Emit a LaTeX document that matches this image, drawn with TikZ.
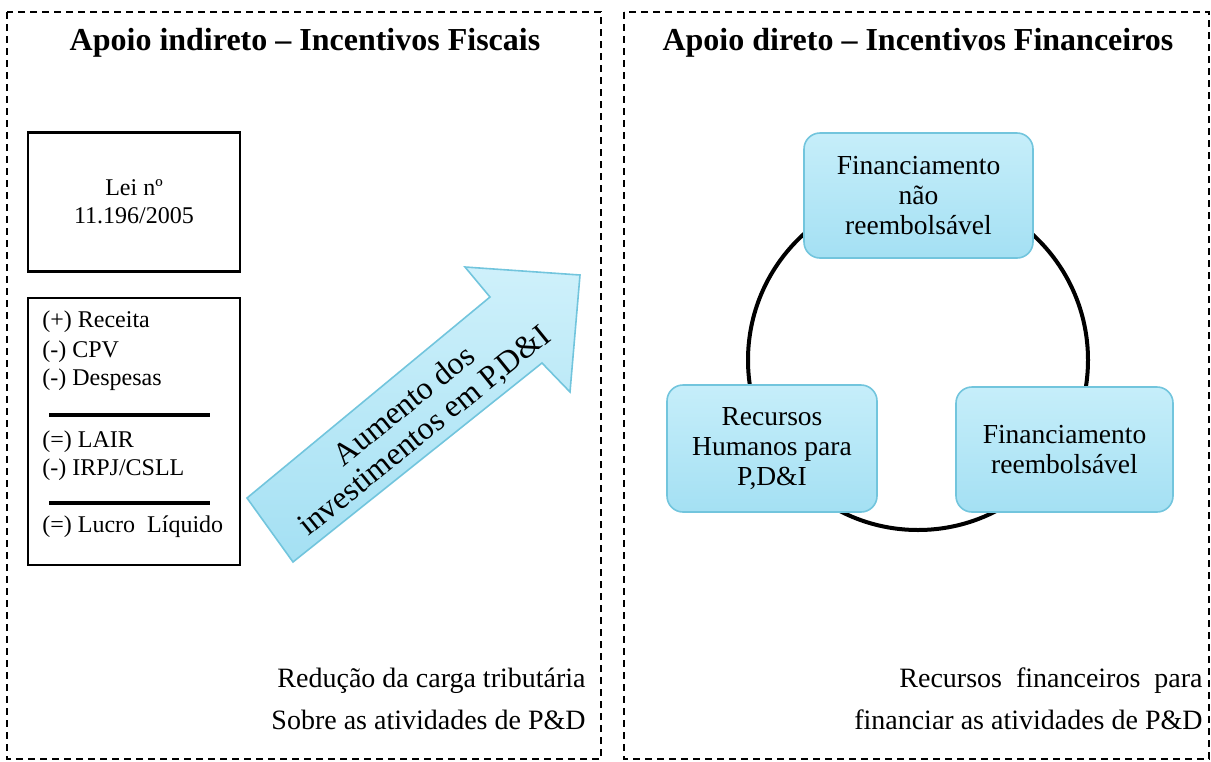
\documentclass[tikz,border=0pt]{standalone}
\usepackage{fontspec}
\setmainfont{Liberation Serif}
\usepackage{xcolor}
\usetikzlibrary{positioning}
\definecolor{boxtop}{HTML}{C6EEFA}
\definecolor{boxbot}{HTML}{A4E0F3}
\definecolor{boxline}{HTML}{72C5DD}
\tikzset{
    panel/.style={draw, line width=0.6pt, dash pattern=on 3.5pt off 2.5pt},
    titletxt/.style={anchor=base, font=\fontsize{16}{18}\selectfont\bfseries},
    plainbox/.style={draw, line width=1.4pt, minimum width=106pt},
    dreline/.style={anchor=west, inner sep=0pt, font=\fontsize{12}{14}\selectfont},
    rulebar/.style={line width=1.6pt},
    fundbox/.style={draw=boxline, line width=0.8pt, rounded corners=8pt,
        top color=boxtop, bottom color=boxbot, align=center,
        font=\fontsize{13.75}{15}\selectfont},
    foottxt/.style={anchor=base east, align=right, inner sep=0pt, font=\fontsize{14}{21}\selectfont}
}
\begin{document}
\begin{tikzpicture}[x=0.5pt, y=-0.5pt]
                        \useasboundingbox (0, 0) rectangle (1211, 761);
                        % the two halves
                        \draw[panel] (7, 12) rectangle (601, 759);
                        \draw[panel] (624, 12) rectangle (1209, 759);
                        \node[titletxt] (tind) at (305, 50) {Apoio indireto -- Incentivos Fiscais};
                        \node[titletxt] (tdir) at (918, 50) {Apoio direto -- Incentivos Financeiros};
                        % left half
                        \node[plainbox, minimum height=69.5pt, align=center,
                              font=\fontsize{12}{14}\selectfont] (lei) at (134, 202) {Lei nº\\11.196/2005};
                        \node[plainbox, minimum height=133.5pt] (dre) at (134, 431.5) {};
                        \foreach \y/\t in {322/{(+) Receita}, 352/{(-) CPV}, 380/{(-) Despesas},
                                           442/{(=) LAIR}, 470/{(-) IRPJ/CSLL}, 527/{(=) Lucro\ \ Líquido}} {
                            \node[dreline] (l\y) at (42, \y) {\t};
                        }
                        \draw[rulebar] (49, 415) -- (210, 415);
                        \draw[rulebar] (49, 503) -- (210, 503);
                        \draw[draw=boxline, line width=0.8pt, top color=boxtop!85!white, bottom color=boxbot]
                        (247, 498) -- (490, 297) -- (465, 267) -- (580, 275) -- (570, 392) -- (542, 363) -- (293, 562) -- cycle;
                        \node[rotate=39, align=center, font=\fontsize{16}{16}\selectfont] (aum) at (415, 419)
                            {Aumento dos\\investimentos em P,D\&I};
                        \node[foottxt] (red) at (586, 729) {Redução da carga tributária\\Sobre as atividades de P\&D};
                        % right half
                        \coordinate (ring) at (918, 360);
                        \draw[line width=2pt] (ring) circle[radius=85pt];
                        \node[fundbox, minimum width=114.5pt, minimum height=62.5pt] (fnr) at (918.5, 195.5)
                            {Financiamento\\não\\reembolsável};
                        \node[fundbox, minimum width=105pt, minimum height=63.5pt] (rh) at (772, 448.5)
                            {Recursos\\Humanos para\\P,D\&I};
                        \node[fundbox, minimum width=108.5pt, minimum height=62.5pt] (fr) at (1064.5, 449.5)
                            {Financiamento\\reembolsável};
                        \node[foottxt] (rec) at (1203, 729)
                            {Recursos\ \ financeiros\ \ para\\financiar as atividades de P\&D};
                    \end{tikzpicture}
\end{document}
